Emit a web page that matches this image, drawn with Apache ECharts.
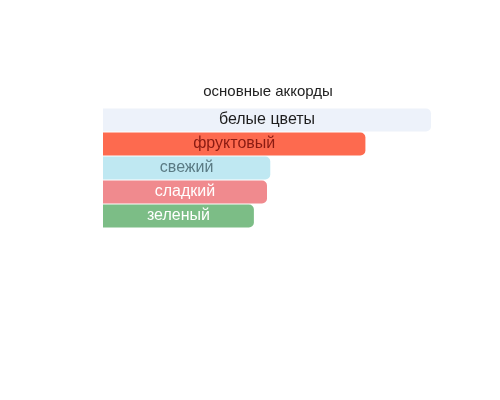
<!DOCTYPE html>
<html>
<head>
<meta charset="utf-8">
<script src="https://cdn.jsdelivr.net/npm/echarts@6/dist/echarts.min.js"></script>
<style>
  html, body { margin: 0; padding: 0; background: #ffffff; }
  #chart { width: 500px; height: 400px; }
</style>
</head>
<body>
<div id="chart"></div>
<script>
// основные аккорды
var accords = ["белые цветы", "фруктовый", "свежий", "сладкий", "зеленый"];
var strengths = [100, 80, 51, 50, 46];
var barColors = ["#edf2fa", "#fd6a4f", "#bfe8f2", "#f08a8e", "#7cbd86"];
var labelColors = ["#1e1e1e", "#8a1b12", "#5b7b84", "#ffffff", "#ffffff"];

var chart = echarts.init(document.getElementById("chart"));

var barData = accords.map(function (name, i) {
    return {
        value: strengths[i],
        name: name,
        itemStyle: { color: barColors[i] },
        label: { color: labelColors[i] }
    };
});

var option = {
    backgroundColor: "#ffffff",
    animation: false,
    title: {
        text: "основные аккорды",
        left: 263,
        textAlign: "center",
        top: 79,
        textStyle: {
            fontFamily: "Liberation Sans",
            fontWeight: "normal",
            fontSize: 15,
            color: "#222222"
        }
    },
    grid: { left: 103, right: 69, top: 108, bottom: 172 },
    xAxis: {
        type: "value",
        min: 0,
        max: 100,
        show: false
    },
    yAxis: {
        type: "category",
        data: accords,
        inverse: true,
        show: false
    },
    series: [{
        type: "bar",
        data: barData,
        barWidth: 23,
        itemStyle: { borderRadius: [0, 5, 5, 0] },
        label: {
            show: true,
            position: "inside",
            formatter: "{b}",
            fontFamily: "Liberation Sans",
            fontSize: 16
        }
    }]
};

chart.setOption(option);
</script>
</body>
</html>
